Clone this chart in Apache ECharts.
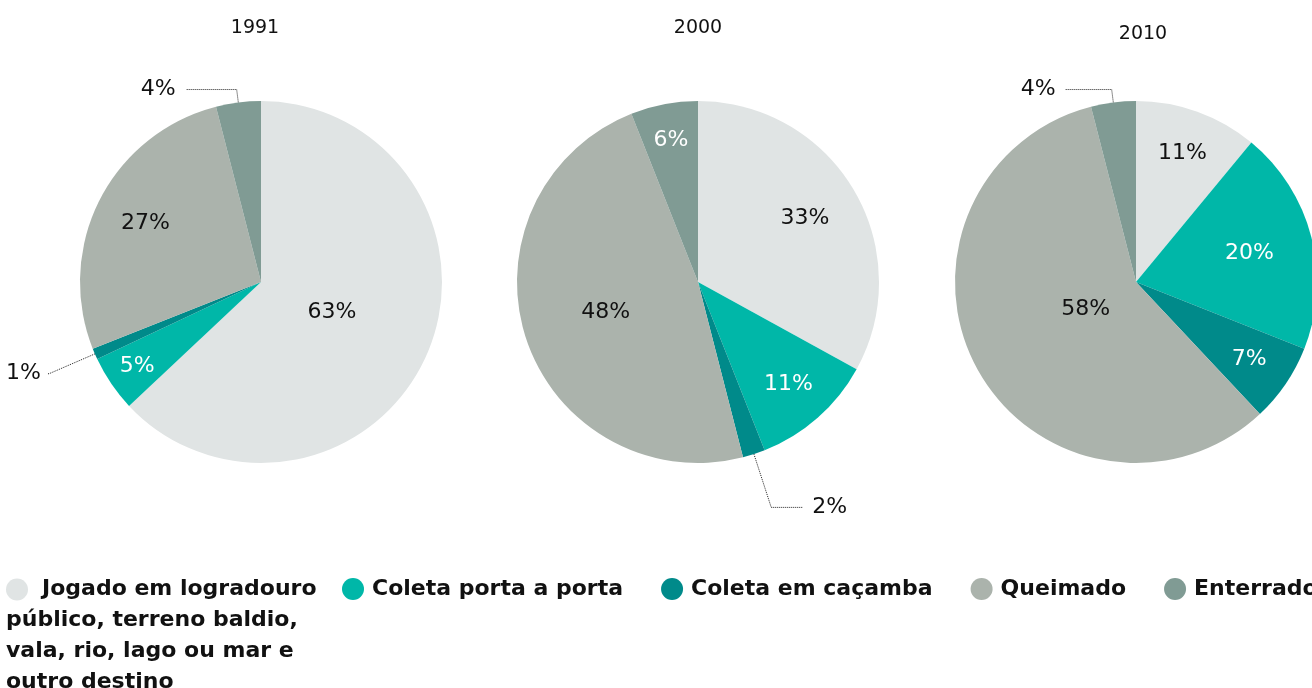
<!DOCTYPE html>
<html>
<head>
<meta charset="utf-8">
<script src="https://cdn.jsdelivr.net/npm/echarts@6/dist/echarts.min.js"></script>
<style>
  html, body { margin: 0; padding: 0; background: #fff; }
  #main { width: 1312px; height: 688px; }
</style>
</head>
<body>
<div id="main"></div>
<script>
// dados
const years = ['1991', '2000', '2010'];
const categories = [
  'Jogado em logradouro público, terreno baldio, vala, rio, lago ou mar e outro destino',
  'Coleta porta a porta',
  'Coleta em caçamba',
  'Queimado',
  'Enterrado'
];
const values1991 = [63, 5, 1, 27, 4];
const values2000 = [33, 11, 2, 48, 6];
const values2010 = [11, 20, 7, 58, 4];
const allValues = [values1991, values2000, values2010];

const colors = ['#e0e4e4', '#00b7a8', '#008a8a', '#abb3ac', '#809b94'];
const whiteText = [false, true, true, false, true];

// onde fica o rótulo: número = fração do raio (dentro), [length, length2, distância] = fora com linha
const labelSpots = [
  [0.41, 0.81, [50, 2, 6], 0.70, [13, 51, 10]],
  [0.67, 0.74, [56, 32, 9], 0.52, 0.78],
  [0.74, 0.63, 0.74, 0.30, [13, 47, 9]]
];
const centers = [[261, 282], [698, 282], [1136, 282]];
const R = 181;
const font = 'DejaVu Sans';

const chart = echarts.init(document.getElementById('main'));

function midAngle(vals, i) {
  const total = vals.reduce((a, b) => a + b, 0);
  let acc = 0;
  for (let k = 0; k < i; k++) acc += vals[k];
  return (acc + vals[i] / 2) / total * Math.PI * 2;
}

const series = allValues.map(function (vals, s) {
  return {
    type: 'pie',
    name: years[s],
    center: centers[s],
    radius: R,
    startAngle: 90,
    clockwise: true,
    avoidLabelOverlap: false,
    silent: true,
    label: {
      show: true,
      position: 'inside',
      formatter: '{c}%',
      fontFamily: font,
      fontSize: 22,
      color: '#111'
    },
    labelLine: { show: false },
    labelLayout: function (p) {
      const spot = labelSpots[s][p.dataIndex];
      if (typeof spot !== 'number') return {};
      const a = midAngle(vals, p.dataIndex);
      const d = (spot - 0.5) * R;
      return { dx: d * Math.sin(a), dy: -d * Math.cos(a) };
    },
    data: vals.map(function (v, i) {
      const spot = labelSpots[s][i];
      const item = { name: categories[i], value: v, itemStyle: { color: colors[i] } };
      if (typeof spot === 'number') {
        item.label = { color: whiteText[i] ? '#fff' : '#111' };
      } else {
        item.label = { position: 'outside', color: '#111', distanceToLabelLine: spot[2] };
        item.labelLine = {
          show: true, length: spot[0], length2: spot[1],
          lineStyle: { type: 'dotted', color: '#222', width: 1 }
        };
      }
      return item;
    })
  };
});

const titleLeft = [255, 698, 1143];
const titleTop = [19, 19, 25];

chart.setOption({
  animation: false,
  title: years.map(function (y, i) {
    return {
      text: y, left: titleLeft[i], top: titleTop[i], textAlign: 'center', padding: 0,
      textStyle: { fontFamily: font, fontSize: 19, fontWeight: 'normal', color: '#111' }
    };
  }),
  legend: [
    {
      data: [categories[0]],
      left: 1, top: 574, padding: 0,
      icon: 'none', itemWidth: 0, itemHeight: 0,
      selectedMode: false,
      formatter: function () {
        return '{dot|}{sp|}Jogado em logradouro\npúblico, terreno baldio,\nvala, rio, lago ou mar e\noutro destino';
      },
      textStyle: {
        fontFamily: font, fontSize: 22, fontWeight: 'bold', color: '#111', lineHeight: 31,
        rich: {
          dot: { width: 22, height: 22, borderRadius: 11, backgroundColor: colors[0] },
          sp: { width: 14 }
        }
      }
    },
    {
      data: categories.slice(1),
      left: 342, top: 578, padding: 0, width: 1200,
      icon: 'circle', itemWidth: 22, itemHeight: 22, itemGap: 38,
      selectedMode: false,
      textStyle: {
        fontFamily: font, fontSize: 22, fontWeight: 'bold', color: '#111',
        padding: [0, 0, 0, 3]
      }
    }
  ],
  series: series
});
</script>
</body>
</html>
